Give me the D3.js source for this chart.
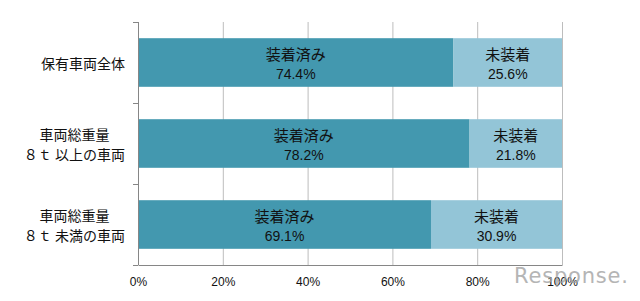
<!DOCTYPE html>
<html>
<head>
<meta charset="utf-8">
<script src="https://cdn.jsdelivr.net/npm/d3@7"></script>
<style>
  body { margin: 0; background: #fff; }
  svg { display: block; font-family: "Noto Sans CJK JP", "Noto Sans", sans-serif; }
</style>
</head>
<body>
<div id="chart"></div>
<script>
// data
const categories = [
  ["保有車両全体"],
  ["車両総重量", "８ｔ 以上の車両"],
  ["車両総重量", "８ｔ 未満の車両"]
];
const equipped = [74.4, 78.2, 69.1];
const notEquipped = [25.6, 21.8, 30.9];
const seriesNames = ["装着済み", "未装着"];
const tickValues = [0, 20, 40, 60, 80, 100];

const width = 640, height = 301;
const margin = { top: 22, right: 78, bottom: 36, left: 138 };
const colors = ["#4398AF", "#93C5D7"];

const svg = d3.select("#chart").append("svg")
  .attr("width", width)
  .attr("height", height);

const x = d3.scaleLinear()
  .domain([0, 100])
  .range([margin.left, width - margin.right]);

const y = d3.scaleBand()
  .domain(d3.range(categories.length))
  .range([margin.top, height - margin.bottom])
  .paddingInner(0.4)
  .paddingOuter(0.2);

// gridlines
svg.append("g")
  .selectAll("line")
  .data(tickValues.filter(d => d > 0))
  .join("line")
  .attr("x1", d => x(d) + 0.5)
  .attr("x2", d => x(d) + 0.5)
  .attr("y1", margin.top)
  .attr("y2", height - margin.bottom)
  .attr("stroke", "#bdbdbd")
  .attr("stroke-width", 1);

// stacked bars
const rows = categories.map((c, i) => [
  { i, s: 0, x0: 0, x1: equipped[i], v: equipped[i] },
  { i, s: 1, x0: equipped[i], x1: equipped[i] + notEquipped[i], v: notEquipped[i] }
]).flat();

svg.append("g")
  .selectAll("rect")
  .data(rows)
  .join("rect")
  .attr("x", d => x(d.x0))
  .attr("y", d => y(d.i))
  .attr("width", d => x(d.x1) - x(d.x0))
  .attr("height", y.bandwidth())
  .attr("fill", d => colors[d.s]);

// labels in bars
const lab = svg.append("g")
  .attr("text-anchor", "middle")
  .attr("fill", "#111")
  .selectAll("g")
  .data(rows)
  .join("g")
  .attr("transform", d => `translate(${x((d.x0 + d.x1) / 2)},${y(d.i) + y.bandwidth() / 2})`);

lab.append("text")
  .attr("y", -9)
  .attr("dominant-baseline", "central")
  .style("font-size", "15px")
  .text(d => seriesNames[d.s]);

lab.append("text")
  .attr("y", 11)
  .attr("dominant-baseline", "central")
  .style("font-family", "'Liberation Sans', sans-serif")
  .style("font-size", "14px")
  .text(d => d.v.toFixed(1) + "%");

// x axis
svg.append("g")
  .attr("transform", `translate(0,${height - margin.bottom})`)
  .call(d3.axisBottom(x)
    .tickValues(tickValues)
    .tickFormat(d => d + "%")
    .tickSize(0)
    .tickPadding(12))
  .call(g => g.select(".domain").attr("stroke", "#868686"))
  .call(g => g.selectAll(".tick text")
    .style("font-family", "'Liberation Sans', sans-serif")
    .style("font-size", "12px")
    .attr("fill", "#111"));

// y axis
const yAxis = svg.append("g");
yAxis.append("line")
  .attr("x1", margin.left + 0.5).attr("x2", margin.left + 0.5)
  .attr("y1", margin.top).attr("y2", height - margin.bottom)
  .attr("stroke", "#868686");
yAxis.selectAll(".yt")
  .data([margin.top, ...d3.range(1, categories.length).map(i => (y(i - 1) + y.bandwidth() + y(i)) / 2), height - margin.bottom])
  .join("line")
  .attr("class", "yt")
  .attr("x1", margin.left - 5).attr("x2", margin.left)
  .attr("y1", d => Math.round(d) + 0.5).attr("y2", d => Math.round(d) + 0.5)
  .attr("stroke", "#868686");

// category labels: block right-aligned, lines centred within block
const labelRight = 125;
const lineGap = 20;
const catLines = categories.map((lines, i) => lines.map((t, j) => ({
  t, i, j,
  cy: y(i) + y.bandwidth() / 2 + (j - (lines.length - 1) / 2) * lineGap
}))).flat();

const cat = svg.append("g")
  .attr("text-anchor", "middle")
  .attr("fill", "#111")
  .selectAll("text")
  .data(catLines)
  .join("text")
  .attr("y", d => d.cy)
  .attr("dominant-baseline", "central")
  .style("font-size", "14px")
  .text(d => d.t);

const blockW = categories.map(() => 0);
cat.each(function (d) { blockW[d.i] = Math.max(blockW[d.i], this.getComputedTextLength()); });
cat.attr("x", d => labelRight - blockW[d.i] / 2);

// watermark
svg.append("text")
  .attr("x", 514)
  .attr("y", 283)
  .attr("fill", "#a3a3a3")
  .attr("opacity", 0.8)
  .attr("textLength", 114)
  .style("font-family", "'DejaVu Sans', sans-serif")
  .style("font-size", "21px")
  .text("Response.");
</script>
</body>
</html>
